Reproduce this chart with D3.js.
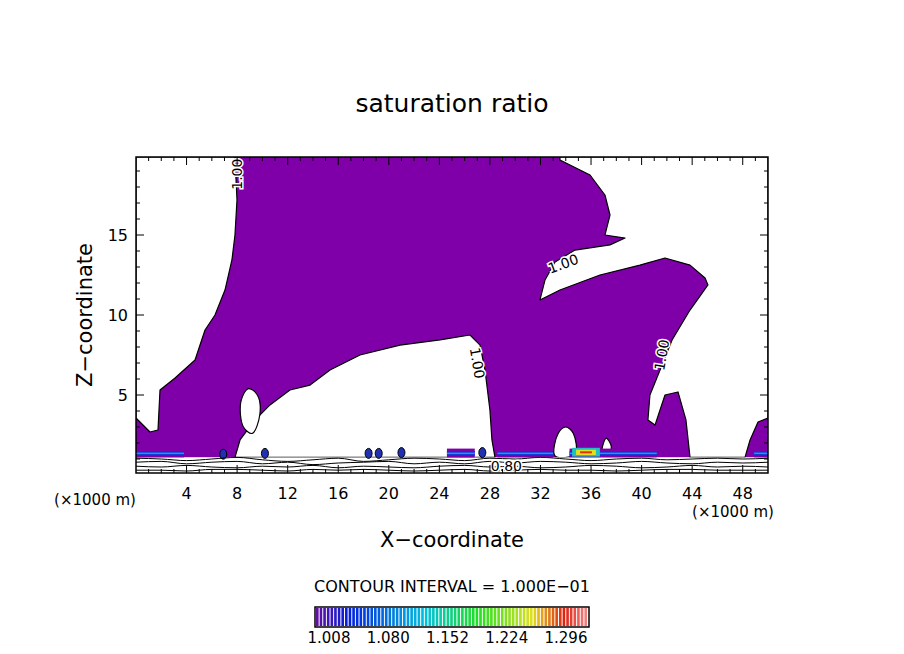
<!DOCTYPE html>
<html><head><meta charset="utf-8">
<script src="https://cdn.jsdelivr.net/npm/d3@7"></script>
<style>body{margin:0;background:#fff}text{font-family:"DejaVu Sans",sans-serif}</style>
</head><body><svg width="904" height="654"></svg>
<script>
// polygons in km (x) / km (z)
const purpleArea = [[0,1.1],[50,1.1],[50,19.875],[0,19.875]];
const whiteLeft = [[0,19.875],[7.83,19.875],[7.99,17.19],[7.83,15],[7.59,13.44],[7.04,11.56],[6.25,10],[5.46,9.06],[4.67,7.19],[3.09,6.06],[1.9,5.31],[1.74,2.81],[1.11,2.69],[0,3.56]];
const whiteRight = [[33.54,19.875],[50,19.875],[50,3.56],[49.21,3.31],[48.58,2.19],[48.18,1.1],[43.83,1.1],[43.51,3.44],[42.88,5.19],[41.85,5],[41.06,3.12],[40.5,3.44],[40.66,5],[41.46,6.56],[42.41,8.44],[43.83,10.31],[45.25,11.88],[45.02,12.31],[43.83,13.12],[41.85,13.56],[39.87,13.12],[36.71,12.5],[33.54,11.56],[31.96,10.94],[32.36,12.19],[33.15,13.31],[34.73,14.06],[37.5,14.38],[38.69,14.81],[37.1,15],[37.5,16.25],[37.1,17.5],[35.92,18.75],[33.54,19.69]];
const whiteMiddle = [[7.83,1.1],[8.23,2.19],[9.41,3.44],[10.6,4.38],[12.18,5.31],[13.77,5.62],[15.35,6.56],[17.72,7.5],[20.89,8.12],[24.05,8.44],[26.42,8.75],[27.22,8.12],[27.61,6.56],[28.0,4.06],[28.16,2.19],[28.4,1.1]];
const whiteHoles = [
  [[8.3,4.6],[8.9,5.4],[9.6,5.0],[9.8,3.8],[9.2,2.6],[8.5,3.0]],
  [[33.15,1.2],[33.4,2.6],[34.0,3.0],[34.6,2.6],[34.73,1.3]],
  [[36.9,1.5],[37.2,2.3],[37.6,1.8],[37.5,1.5]]
];
// blue band segments [x0,x1]
const blueBand = [[0,3.8],[24.6,26.8],[28.6,33.0],[34.3,41.2],[48.9,50]];
const hotSpot = [[34.5,36.7]];
const smallBlobs = [[10.2,1.35],[18.4,1.35],[19.2,1.35],[21.0,1.4],[27.4,1.4],[6.9,1.3]];
// contour lines below purple
const lineX = d3.range(0, 51, 2);
const lineZ = [
  [1.05,1.0,0.9,1.0,1.1,0.95,0.85,0.95,1.05,0.85,0.95,1.05,1.0,0.9,1.05,1.0,1.1,1.0,0.9,1.0,1.05,0.95,1.0,1.05,1.0,1.05],
  [0.8,0.85,0.7,0.8,0.85,0.7,0.8,0.65,0.75,0.8,0.85,0.7,0.8,0.7,0.85,0.75,0.85,0.8,0.7,0.75,0.85,0.75,0.7,0.8,0.75,0.8],
  [0.55,0.5,0.6,0.5,0.45,0.55,0.5,0.6,0.45,0.55,0.5,0.45,0.55,0.6,0.5,0.55,0.45,0.5,0.6,0.55,0.45,0.5,0.6,0.5,0.55,0.5],
  [0.3,0.3,0.25,0.35,0.35,0.3,0.25,0.35,0.3,0.35,0.3,0.25,0.3,0.35,0.25,0.3,0.35,0.3,0.3,0.25,0.3,0.35,0.35,0.3,0.3,0.3]
];
const contourLabels = [["1.00",8.0,18.8,-90],["1.00",33.8,13.2,-20],["1.00",27.0,7.0,80],["1.00",41.6,7.5,-80],["0.80",29.3,0.55,0]];
const xTicks = d3.range(4, 50, 4);
const yTicks = [5, 10, 15];
const barLabels = ["1.008","1.080","1.152","1.224","1.296"];

const svg = d3.select("svg");
const x = d3.scaleLinear().domain([0, 50]).range([136, 768]);
const y = d3.scaleLinear().domain([0, 20]).range([475, 155]);
const line = d3.line().x(d => x(d[0])).y(d => y(d[1]));
const curve = d3.line().x(d => x(d[0])).y(d => y(d[1])).curve(d3.curveCatmullRomClosed.alpha(0.5));
const smooth = d3.line().x(d => x(d[0])).y(d => y(d[1])).curve(d3.curveMonotoneX);
const purple = "#7f00a8";

const plot = svg.append("g");
plot.append("clipPath").attr("id","c").append("rect").attr("x",136).attr("y",157).attr("width",632).attr("height",316);
const g = plot.append("g").attr("clip-path","url(#c)");
g.append("path").attr("d", line(purpleArea) + "Z").attr("fill", purple);
[whiteLeft, whiteRight, whiteMiddle].forEach(p =>
  g.append("path").attr("d", line(p) + "Z").attr("fill", "#fff").attr("stroke", "#000").attr("stroke-width", 1.2).attr("stroke-linejoin","round"));
whiteHoles.forEach(p =>
  g.append("path").attr("d", curve(p)).attr("fill", "#fff").attr("stroke", "#000").attr("stroke-width", 1.2));
g.append("rect").attr("x",136).attr("y",y(1.1)).attr("width",632).attr("height",30).attr("fill","#fff");
blueBand.forEach(b => {
  g.append("rect").attr("x",x(b[0])).attr("y",y(1.65)).attr("width",x(b[1])-x(b[0])).attr("height",y(1.1)-y(1.65)).attr("fill",purple);
  g.append("rect").attr("x",x(b[0])).attr("y",y(1.5)).attr("width",x(b[1])-x(b[0])).attr("height",y(1.2)-y(1.5)).attr("fill","#1030d0");
  g.append("rect").attr("x",x(b[0])).attr("y",y(1.4)).attr("width",x(b[1])-x(b[0])).attr("height",1.5).attr("fill","#3090f0");
});
hotSpot.forEach(b => {
  g.append("rect").attr("x",x(b[0])).attr("y",y(1.7)).attr("width",x(b[1])-x(b[0])).attr("height",y(1.15)-y(1.7)).attr("fill","#20c0c0");
  g.append("rect").attr("x",x(b[0])+4).attr("y",y(1.58)).attr("width",x(b[1])-x(b[0])-8).attr("height",y(1.25)-y(1.58)).attr("fill","#e0e020");
  g.append("rect").attr("x",x(b[0])+8).attr("y",y(1.48)).attr("width",x(b[1])-x(b[0])-16).attr("height",2).attr("fill","#e03010");
});
smallBlobs.forEach(b => g.append("ellipse").attr("cx",x(b[0])).attr("cy",y(b[1])).attr("rx",3.5).attr("ry",5)
  .attr("fill","#2030b0").attr("stroke","#000"));
lineZ.forEach(zs => g.append("path").attr("d", smooth(lineX.map((v,i) => [v, zs[i]]))).attr("fill","none").attr("stroke","#000").attr("stroke-width",1));
contourLabels.forEach(l => g.append("text").attr("transform",`translate(${x(l[1])},${y(l[2])}) rotate(${l[3]})`)
  .attr("text-anchor","middle").attr("dy","0.35em").attr("font-size",14).attr("fill","#000")
  .attr("stroke","#fff").attr("stroke-width",3).attr("paint-order","stroke").text(l[0]));

svg.append("rect").attr("x",136).attr("y",157).attr("width",632).attr("height",316).attr("fill","none").attr("stroke","#000").attr("stroke-width",1.5);
// ticks
d3.range(1, 50).forEach(v => {
  const len = v % 4 === 0 ? 8 : 4;
  [[473, -len],[157, len]].forEach(([b, d]) => svg.append("line").attr("x1",x(v)).attr("x2",x(v)).attr("y1",b).attr("y2",b+d).attr("stroke","#000"));
});
d3.range(1, 20).forEach(v => {
  const len = v % 5 === 0 ? 8 : 4;
  [[136, len],[768, -len]].forEach(([b, d]) => svg.append("line").attr("y1",y(v)).attr("y2",y(v)).attr("x1",b).attr("x2",b+d).attr("stroke","#000"));
});
xTicks.forEach(v => svg.append("text").attr("x",x(v)).attr("y",499).attr("text-anchor","middle").attr("font-size",16).text(v));
yTicks.forEach(v => svg.append("text").attr("x",128).attr("y",y(v)+6).attr("text-anchor","end").attr("font-size",16).text(v));

svg.append("text").attr("x",452).attr("y",112).attr("text-anchor","middle").attr("font-size",25).text("saturation ratio");
svg.append("text").attr("x",452).attr("y",547).attr("text-anchor","middle").attr("font-size",21).text("X\u2212coordinate");
svg.append("text").attr("transform","translate(92,315) rotate(-90)").attr("text-anchor","middle").attr("font-size",21).text("Z\u2212coordinate");
svg.append("text").attr("x",95).attr("y",505).attr("text-anchor","middle").attr("font-size",15).text("(\u00d71000 m)");
svg.append("text").attr("x",733).attr("y",517).attr("text-anchor","middle").attr("font-size",15).text("(\u00d71000 m)");
svg.append("text").attr("x",452).attr("y",592).attr("text-anchor","middle").attr("font-size",16).text("CONTOUR INTERVAL = 1.000E\u221201");

// colour bar
const nStripes = 75;
const cb = d3.scaleLinear().domain([0, nStripes]).range([316, 588]);
const cc = d3.scaleLinear().domain([0, 0.12, 0.4, 0.6, 0.8, 0.92, 1])
  .range(["#6010a0","#0020e0","#00c0e0","#20e020","#e0e020","#e02010","#f08080"]);
d3.range(nStripes).forEach(i => svg.append("rect").attr("x",cb(i)).attr("y",608).attr("width",cb(i+1)-cb(i)-1).attr("height",18).attr("fill",cc(i/(nStripes-1))));
svg.append("rect").attr("x",315).attr("y",607).attr("width",274).attr("height",20).attr("fill","none").attr("stroke","#000").attr("stroke-width",1.5);
const lb = d3.scalePoint().domain(barLabels).range([329, 566]);
barLabels.forEach(l => svg.append("text").attr("x",lb(l)).attr("y",643).attr("text-anchor","middle").attr("font-size",15).text(l));
</script></body></html>
